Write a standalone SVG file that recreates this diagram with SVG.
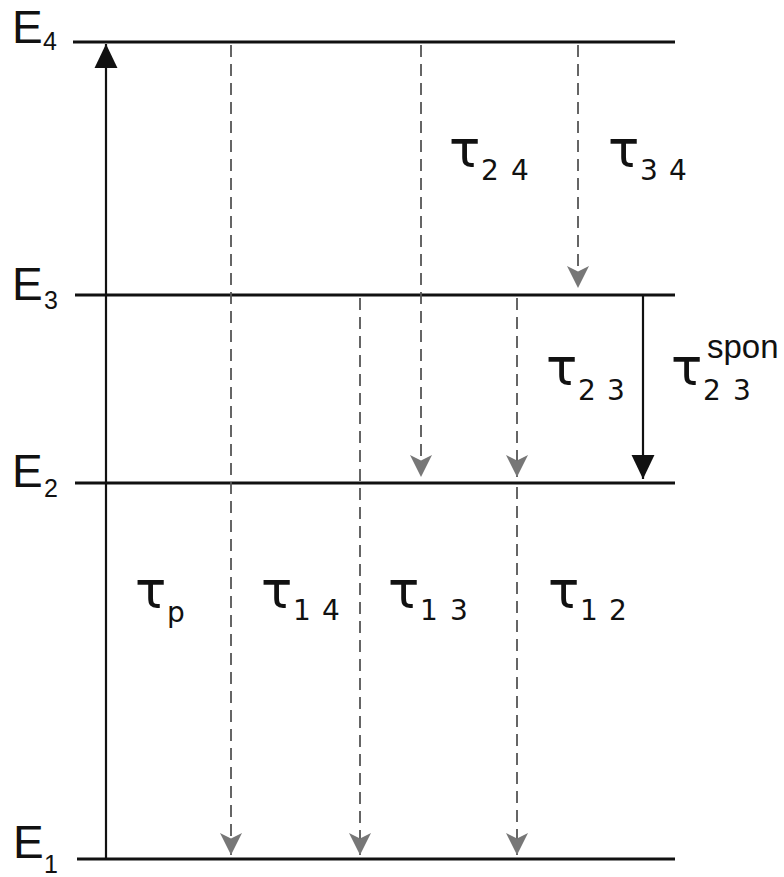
<svg xmlns="http://www.w3.org/2000/svg" width="784" height="877" viewBox="0 0 784 877">
<defs>
<style>
.lvl{stroke:#111;stroke-width:3;fill:none}
.solid{stroke:#111;stroke-width:2.2;fill:none}
.dash{stroke:#555;stroke-width:1.8;stroke-dasharray:12 7;fill:none}
.E{font-family:"Liberation Sans",Arial,sans-serif;font-size:46px;fill:#111}
.Es{font-family:"Liberation Sans",Arial,sans-serif;font-size:25px;fill:#111}
.tau{font-family:"DejaVu Sans",sans-serif;font-size:52px;fill:#111}
.sub{font-family:"DejaVu Sans",sans-serif;font-size:28px;fill:#111}
.spon{font-family:"Liberation Sans",Arial,sans-serif;font-size:33px;fill:#111}
</style>
<marker id="ahBlack" markerUnits="userSpaceOnUse" markerWidth="24" markerHeight="24" viewBox="0 0 22 21" refX="22" refY="10.5" orient="auto">
<path d="M0,0 L22,10.5 L0,21 z" fill="#111"/>
</marker>
<marker id="ahGray" markerUnits="userSpaceOnUse" markerWidth="22" markerHeight="22" viewBox="0 0 20 20" refX="20" refY="10" orient="auto">
<path d="M0,0 L20,10 L0,20 L5,10 z" fill="#777"/>
</marker>
</defs>
<g id="levels">
<g id="E4"><line class="lvl" x1="73" y1="42" x2="675" y2="42"/><text class="E" x="12" y="43">E</text><text class="Es" x="43" y="50">4</text></g>
<g id="E3"><line class="lvl" x1="75" y1="295" x2="675" y2="295"/><text class="E" x="12" y="300">E</text><text class="Es" x="44" y="309">3</text></g>
<g id="E2"><line class="lvl" x1="75" y1="483" x2="675" y2="483"/><text class="E" x="12" y="487">E</text><text class="Es" x="44" y="497">2</text></g>
<g id="E1"><line class="lvl" x1="77" y1="859" x2="675" y2="859"/><text class="E" x="13" y="858">E</text><text class="Es" x="44" y="873">1</text></g>
</g>
<g id="connectors">
<line class="solid" x1="106" y1="859" x2="106" y2="44" marker-end="url(#ahBlack)"/>
<line class="solid" x1="643" y1="295" x2="643" y2="479" marker-end="url(#ahBlack)"/>
<line class="dash" x1="231" y1="45" x2="231" y2="855" marker-end="url(#ahGray)"/>
<line class="dash" x1="360" y1="298" x2="360" y2="855" marker-end="url(#ahGray)"/>
<line class="dash" x1="421" y1="45" x2="421" y2="477" marker-end="url(#ahGray)"/>
<line class="dash" x1="517" y1="298" x2="517" y2="477" marker-end="url(#ahGray)"/>
<line class="dash" x1="517" y1="487" x2="517" y2="855" marker-end="url(#ahGray)"/>
<line class="dash" x1="578" y1="45" x2="578" y2="288" marker-end="url(#ahGray)"/>
</g>
<g id="labels">
<g id="tau24"><text class="tau" x="449" y="167">τ</text><text class="sub" x="481" y="180">2</text><text class="sub" x="511" y="180">4</text></g>
<g id="tau34"><text class="tau" x="608" y="167">τ</text><text class="sub" x="640" y="180">3</text><text class="sub" x="669" y="180">4</text></g>
<g id="tau23"><text class="tau" x="546" y="385">τ</text><text class="sub" x="578" y="400">2</text><text class="sub" x="607" y="400">3</text></g>
<g id="tau23spon"><text class="tau" x="671" y="385">τ</text><text class="sub" x="703" y="400">2</text><text class="sub" x="733" y="400">3</text><text class="spon" x="707" y="358">spon</text></g>
<g id="taup"><text class="tau" x="135" y="608">τ</text><text class="sub" x="167" y="622">p</text></g>
<g id="tau14"><text class="tau" x="261" y="608">τ</text><text class="sub" x="293" y="620">1</text><text class="sub" x="322" y="620">4</text></g>
<g id="tau13"><text class="tau" x="388" y="608">τ</text><text class="sub" x="420" y="620">1</text><text class="sub" x="450" y="620">3</text></g>
<g id="tau12"><text class="tau" x="548" y="608">τ</text><text class="sub" x="580" y="620">1</text><text class="sub" x="609" y="620">2</text></g>
</g>
</svg>
